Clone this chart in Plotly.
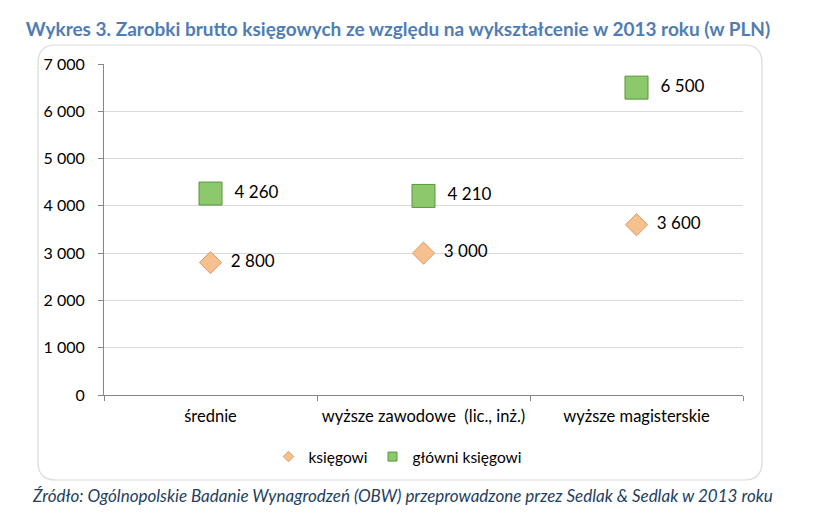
import plotly.graph_objects as go

# education levels and salaries (PLN)
categories = ["średnie", "wyższe zawodowe  (lic., inż.)", "wyższe magisterskie"]
ksiegowi = [2800, 3000, 3600]
glowni_ksiegowi = [4260, 4210, 6500]
y_ticks = [0, 1000, 2000, 3000, 4000, 5000, 6000, 7000]

title_text = "Wykres 3. Zarobki brutto księgowych ze względu na wykształcenie w 2013 roku (w PLN)"
source_text = "Źródło: Ogólnopolskie Badanie Wynagrodzeń (OBW) przeprowadzone przez Sedlak & Sedlak w 2013 roku"

FONT = "Lato"
OFF = 8  # page body margin
W, H = 815 - 2 * OFF, 517 - 2 * OFF
L, R, T, B = 104 - OFF, 743 - OFF, 64 - OFF, 395 - OFF  # plot area in pixels

DIAMOND = "#f7c08f"
SQUARE = "#8cc96c"


def fmt(v):
    return "  " + f"{v:,}".replace(",", " ")


fig = go.Figure()
fig.add_trace(go.Scatter(
    x=categories, y=ksiegowi, name="księgowi",
    mode="markers+text", showlegend=False,
    text=[fmt(v) for v in ksiegowi],
    textposition="middle right",
    textfont=dict(family=FONT, size=17, color="black"),
    marker=dict(symbol="diamond", size=17, color=DIAMOND,
                line=dict(color="#d49a66", width=1)),
    cliponaxis=False,
))
fig.add_trace(go.Scatter(
    x=categories, y=glowni_ksiegowi, name="główni księgowi",
    mode="markers+text", showlegend=False,
    text=[fmt(v) for v in glowni_ksiegowi],
    textposition="middle right",
    textfont=dict(family=FONT, size=17, color="black"),
    marker=dict(symbol="square", size=23, color=SQUARE,
                line=dict(color="#5a9638", width=1)),
    cliponaxis=False,
))
# legend entries with small symbols
fig.add_trace(go.Scatter(x=[None], y=[None], name="księgowi", mode="markers",
                         marker=dict(symbol="diamond", size=8, color=DIAMOND,
                                     line=dict(color="#d49a66", width=1))))
fig.add_trace(go.Scatter(x=[None], y=[None], name="główni księgowi", mode="markers",
                         marker=dict(symbol="square", size=9, color=SQUARE,
                                     line=dict(color="#5a9638", width=1))))


# rounded chart border, pixel coords converted to paper coords
def px(x):
    return (x - OFF - L) / (R - L)


def py(y):
    return (B - (y - OFF)) / (B - T)


x0, x1, y0, y1, rr = 38, 762, 45, 480, 18
path = (
    f"M {px(x0 + rr)} {py(y0)} L {px(x1 - rr)} {py(y0)} "
    f"Q {px(x1)} {py(y0)} {px(x1)} {py(y0 + rr)} "
    f"L {px(x1)} {py(y1 - rr)} Q {px(x1)} {py(y1)} {px(x1 - rr)} {py(y1)} "
    f"L {px(x0 + rr)} {py(y1)} Q {px(x0)} {py(y1)} {px(x0)} {py(y1 - rr)} "
    f"L {px(x0)} {py(y0 + rr)} Q {px(x0)} {py(y0)} {px(x0 + rr)} {py(y0)} Z"
)

fig.update_layout(
    width=W, height=H,
    margin=dict(l=L, r=W - R, t=T, b=H - B),
    paper_bgcolor="white", plot_bgcolor="white",
    separators=", ",
    showlegend=True,
    legend=dict(orientation="h", x=px(398), xanchor="center", y=py(440), yanchor="top",
                font=dict(family=FONT, size=15.5, color="black"),
                itemwidth=30, bgcolor="rgba(0,0,0,0)"),
    title=dict(text=title_text, x=(398 - OFF) / W, xanchor="center", y=1 - (29 - OFF) / H, yanchor="middle",
               font=dict(family=FONT, size=19, color="#4f7db3", weight="bold")),
    shapes=[dict(type="path", path=path, xref="paper", yref="paper",
                 line=dict(color="#d9d9d9", width=1.2), layer="below")],
    annotations=[dict(text=source_text, xref="paper", yref="paper",
                      x=px(402), y=py(495), xanchor="center", yanchor="middle",
                      showarrow=False,
                      font=dict(family=FONT, size=17, color="#243f60", style="italic"))],
)
fig.update_xaxes(
    type="category", range=[-0.5, 2.5], tickson="boundaries",
    ticks="outside", ticklen=5, tickcolor="#868686",
    showline=True, linecolor="#868686", linewidth=1,
    showgrid=False, ticklabelstandoff=6,
    tickfont=dict(family=FONT, size=16.5, color="black"),
)
fig.update_yaxes(
    range=[0, 7000], tickvals=y_ticks, tickformat=",",
    ticks="outside", ticklen=5, tickcolor="#868686",
    showline=True, linecolor="#868686", linewidth=1,
    showgrid=True, gridcolor="#d9d9d9", gridwidth=1,
    zeroline=False, ticklabelstandoff=10,
    tickfont=dict(family=FONT, size=16, color="black"),
)

fig.write_html("out.html")
